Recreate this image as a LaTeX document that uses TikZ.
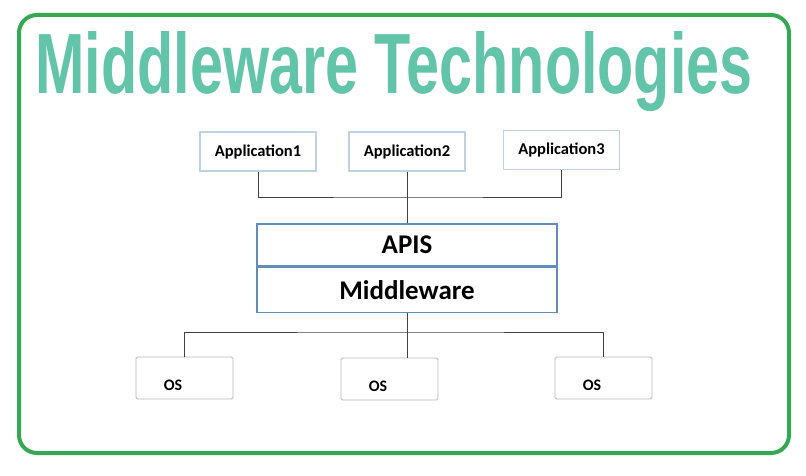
\documentclass[tikz,border=0pt]{standalone}
\usepackage{fontspec}
\setmainfont{Carlito}
\newfontfamily\titlefont{Liberation Sans}
\definecolor{grn}{RGB}{52,168,83}
\definecolor{teal1}{RGB}{98,196,168}
\definecolor{boxb}{RGB}{190,210,225}
\definecolor{apib}{RGB}{100,140,185}
\definecolor{osb}{RGB}{185,185,185}
\tikzset{
 appbox/.style={draw=boxb,line width=1.2pt,minimum width=116pt,minimum height=39pt,font=\bfseries\fontsize{16.5}{18}\selectfont,inner sep=0pt},
 osbox/.style={draw=osb,line width=0.8pt,rounded corners=1.5pt,minimum width=97pt,minimum height=42pt,inner sep=0pt},
 ostext/.style={font=\bfseries\fontsize{16}{18}\selectfont},
 apicell/.style={draw=apib,line width=1.2pt,minimum width=300pt,inner sep=0pt,font=\bfseries\fontsize{27}{30}\selectfont},
 conn/.style={draw=black!75,line width=0.8pt}
}
\begin{document}
\begin{tikzpicture}[x=1pt,y=1pt]
\useasboundingbox (0,0) rectangle (806,475);
\fill[white] (0,0) rectangle (806,475);
\draw[grn,line width=4pt,rounded corners=18pt] (19,22) rectangle (789,460);
% title
\node[text=teal1,font=\titlefont\bfseries,inner sep=0pt] (title) at (394,403) {\resizebox{717pt}{62pt}{Middleware Technologies}};
% apps
\node[appbox] (a1) at (258,323.5) {Application1};
\node[appbox] (a2) at (407,323.5) {Application2};
\node[appbox] (a3) at (561.5,325) {Application3};
% api
\node[apicell,minimum height=42pt] (api) at (407,230) {APIS};
\node[apicell,minimum height=45pt,anchor=north] (mw) at (api.south) {Middleware};
% os
\node[osbox] (o1) at (184.5,97) {};
\node[osbox] (o2) at (389.5,96) {};
\node[osbox] (o3) at (603.5,97) {};
\node[ostext] (t1) at (173,90) {OS};
\node[ostext] (t2) at (378,89) {OS};
\node[ostext] (t3) at (592,90) {OS};
% connectors
\coordinate (j1) at (0,278);
\coordinate (j2) at (0,143);
\draw[conn] (a1.south) |- (j1 -| a2.south) -| (a3.south);
\draw[conn] (a2.south) -- (api.north);
\draw[conn] (o1.north) |- (j2 -| mw.south) -| (o3.north);
\draw[conn] (mw.south) -- (mw.south |- o2.north);
\end{tikzpicture}
\end{document}
